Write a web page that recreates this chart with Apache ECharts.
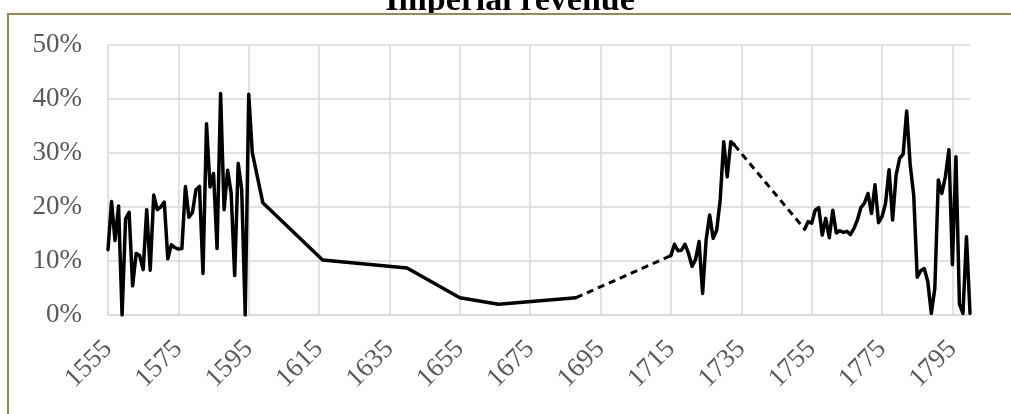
<!DOCTYPE html>
<html>
<head>
<meta charset="utf-8">
<script src="https://cdn.jsdelivr.net/npm/echarts@6/dist/echarts.min.js"></script>
<style>
html, body { margin: 0; padding: 0; background: #fff; }
#grafico { width: 1011px; height: 414px; }
</style>
</head>
<body>
<div id="grafico"></div>
<script>
const titulo = 'Imperial revenue'
const primerAnio = 1555
const ultimoAnio = 1800

// tramo continuo 1555-1688
const aniosA = [1555, 1556, 1557, 1558, 1559, 1560, 1561, 1562, 1563, 1564, 1565, 1566, 1567, 1568, 1569, 1570,
  1571, 1572, 1573, 1574, 1575, 1576, 1577, 1578, 1579, 1580, 1581, 1582, 1583, 1584, 1585, 1586, 1587, 1588,
  1589, 1590, 1591, 1592, 1593, 1594, 1595, 1596, 1599, 1616, 1640, 1655, 1666, 1688]
const valoresA = [12.1, 21.0, 13.8, 20.2, 0, 17.8, 19.0, 5.4, 11.4, 11.0, 8.4, 19.5, 8.3, 22.2, 19.5, 20.0,
  20.9, 10.4, 13.0, 12.5, 12.2, 12.3, 23.8, 18.1, 19.0, 23.2, 23.8, 7.7, 35.4, 23.7, 26.2, 12.3, 41.0, 19.5,
  26.8, 22.6, 7.3, 28.1, 23.2, 0, 40.9, 30.1, 20.8, 10.2, 8.7, 3.2, 2.0, 3.2]

// tramo continuo 1715-1733
const aniosB = [1715, 1716, 1717, 1718, 1719, 1720, 1721, 1722, 1723, 1724, 1725, 1726, 1727, 1728, 1729, 1730,
  1731, 1732, 1733]
const valoresB = [11.0, 13.1, 11.9, 12.0, 13.1, 11.4, 9.0, 10.3, 13.6, 4.0, 13.9, 18.5, 14.2, 15.7, 21.3, 32.1,
  25.6, 32.1, 31.5]

// tramo continuo 1753-1800
const aniosC = [1753, 1754, 1755, 1756, 1757, 1758, 1759, 1760, 1761, 1762, 1763, 1764, 1765, 1766, 1767, 1768,
  1769, 1770, 1771, 1772, 1773, 1774, 1775, 1776, 1777, 1778, 1779, 1780, 1781, 1782, 1783, 1784, 1785, 1786,
  1787, 1788, 1789, 1790, 1791, 1792, 1793, 1794, 1795, 1796, 1797, 1798, 1799, 1800]
const valoresC = [15.9, 17.3, 17.0, 19.4, 19.9, 14.8, 17.9, 14.3, 19.4, 15.2, 15.6, 15.3, 15.5, 14.9, 16.0, 17.6,
  19.9, 20.7, 22.5, 18.8, 24.1, 17.1, 18.2, 20.7, 26.9, 17.6, 25.9, 29.0, 29.8, 37.8, 27.8, 22.2, 7.0, 8.2,
  8.6, 6.2, 0.3, 4.9, 25.0, 22.5, 25.6, 30.6, 9.3, 29.3, 2.0, 0.3, 14.5, 0.3]

// huecos (punteados)
const aniosHueco1 = [1688, 1715]
const valoresHueco1 = [3.2, 11.0]
const aniosHueco2 = [1733, 1753]
const valoresHueco2 = [31.5, 15.9]

const ejeY = { min: 0, max: 50, intervalo: 10 }

let categorias = []
for (let a = primerAnio; a <= ultimoAnio; a++) categorias.push(String(a))

function armarSerie(anios, valores) {
  let data = categorias.map(() => null)
  anios.forEach((a, i) => { data[a - primerAnio] = valores[i] })
  return data
}

const fuente = '"Liberation Serif", "DejaVu Serif", serif'
const gris = '#d9d9d9'

function linea(nombre, anios, valores, punteada) {
  return {
    name: nombre,
    type: 'line',
    data: armarSerie(anios, valores),
    connectNulls: true,
    showSymbol: false,
    symbol: 'none',
    z: 5,
    lineStyle: {
      color: '#000',
      width: punteada ? 3 : 3.5,
      type: punteada ? [7, 5] : 'solid',
      cap: punteada ? 'butt' : 'round',
      join: 'round'
    }
  }
}

let myChart = echarts.init(document.getElementById('grafico'))

let option = {
  animation: false,
  backgroundColor: '#fff',
  graphic: [
    {
      type: 'text',
      z: -1,
      style: {
        text: titulo,
        x: 510,
        y: 1,
        fill: '#000',
        font: 'bold 34px ' + fuente,
        textAlign: 'center',
        textVerticalAlign: 'middle'
      }
    },
    {
      type: 'rect',
      z: 0,
      shape: { x: 8, y: 14, width: 1100, height: 500 },
      style: { fill: '#fff', stroke: '#958b4c', lineWidth: 2 }
    }
  ],
  grid: {
    left: 108,
    right: 41,
    top: 45,
    bottom: 99
  },
  xAxis: {
    type: 'category',
    z: 3,
    data: categorias,
    boundaryGap: false,
    axisLine: { show: true, lineStyle: { color: gris, width: 1.5 } },
    axisTick: { show: false },
    splitLine: { show: true, interval: 19, lineStyle: { color: gris, width: 1.5 } },
    axisLabel: {
      interval: 19,
      rotate: 45,
      margin: 30,
      color: '#595959',
      fontFamily: fuente,
      fontSize: 27
    }
  },
  yAxis: {
    type: 'value',
    z: 3,
    min: ejeY.min,
    max: ejeY.max,
    interval: ejeY.intervalo,
    axisLine: { show: false },
    axisTick: { show: false },
    splitLine: { lineStyle: { color: gris, width: 1.5 } },
    axisLabel: {
      formatter: '{value}%',
      margin: 26,
      color: '#595959',
      fontFamily: fuente,
      fontSize: 27
    }
  },
  series: [
    linea('A', aniosA, valoresA, false),
    linea('B', aniosB, valoresB, false),
    linea('C', aniosC, valoresC, false),
    linea('Hueco 1', aniosHueco1, valoresHueco1, true),
    linea('Hueco 2', aniosHueco2, valoresHueco2, true)
  ]
}

myChart.setOption(option)
</script>
</body>
</html>
